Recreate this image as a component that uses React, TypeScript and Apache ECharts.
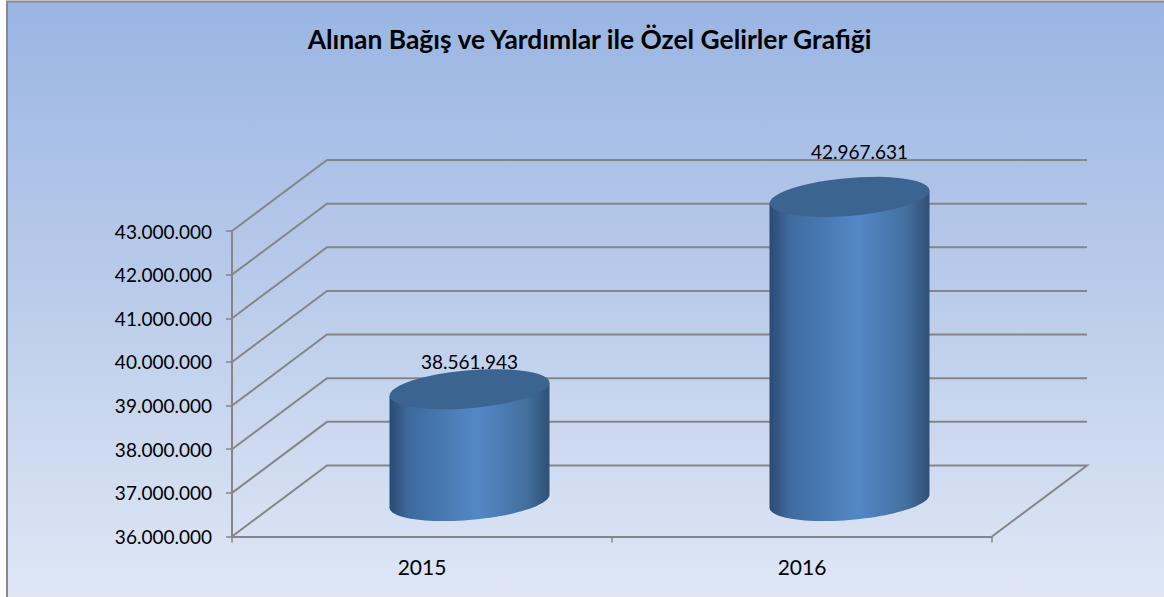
import React, { useEffect, useRef } from "react";
import * as echarts from "echarts";

const TITLE = "Alınan Bağış ve Yardımlar ile Özel Gelirler Grafiği";
const categories = ["2015", "2016"];
const values = [38561943, 42967631];
const yTicks = [36000000, 37000000, 38000000, 39000000, 40000000, 41000000, 42000000, 43000000];
const FONT = "Lato";
const W = 1164;
const H = 597;
const DEPTH_X = 95;
const DEPTH_Y = -71;
const RX = 80;
const RY = 19;
const SHEAR = 6.5;

const fmt = (v: number) => String(v).replace(/\B(?=(\d{3})+(?!\d))/g, ".");

function arc(cx: number, cy: number, from: number, to: number) {
  const pts: number[][] = [];
  const n = 48;
  for (let i = 0; i <= n; i++) {
    const t = from + ((to - from) * i) / n;
    pts.push([cx + RX * Math.cos(t), cy + RY * Math.sin(t) - SHEAR * Math.cos(t)]);
  }
  return pts;
}

export default function App() {
  const ref = useRef<HTMLDivElement>(null);
  useEffect(() => {
    document.body.style.margin = "0";
    const chart = echarts.init(ref.current!, undefined, { renderer: "svg" });
    const bodyFill = new echarts.graphic.LinearGradient(0, 0, 1, 0, [
      { offset: 0, color: "#2b4a72" },
      { offset: 0.12, color: "#3e6a9e" },
      { offset: 0.55, color: "#5388c7" },
      { offset: 0.85, color: "#44709f" },
      { offset: 1, color: "#2f5077" },
    ]);
    chart.setOption({
      animation: false,
      title: {
        text: TITLE,
        left: 584.5,
        top: 21,
        textAlign: "center",
        textStyle: { fontFamily: FONT, fontSize: 26.4, fontWeight: "bold", color: "#000" },
      },
      graphic: [
        {
          type: "rect",
          z: -10,
          shape: { x: 7, y: 1.5, width: W + 20, height: H + 20 },
          style: {
            fill: new echarts.graphic.LinearGradient(0, 0, 0, 1, [
              { offset: 0, color: "#9ab5e3" },
              { offset: 0.5, color: "#bccdeb" },
              { offset: 1, color: "#e2e9f6" },
            ]),
            stroke: "#8a8a8a",
            lineWidth: 2,
          },
        },
      ],
      grid: { left: 232, right: W - 992, top: 231, bottom: H - 536.5 },
      xAxis: {
        type: "category",
        data: categories,
        axisLine: { lineStyle: { color: "#868686", width: 2 } },
        axisTick: { show: true, length: 6, alignWithLabel: false, lineStyle: { color: "#868686", width: 1.5 } },
        axisLabel: { color: "#000", fontFamily: FONT, fontSize: 21, margin: 19 },
        splitLine: { show: false },
      },
      yAxis: {
        type: "value",
        min: yTicks[0],
        max: yTicks[yTicks.length - 1],
        interval: yTicks[1] - yTicks[0],
        axisLine: { show: true, lineStyle: { color: "#868686", width: 2 } },
        axisTick: { show: true, length: 6, lineStyle: { color: "#868686", width: 1.5 } },
        axisLabel: { color: "#000", fontFamily: FONT, fontSize: 19, margin: 20, formatter: (v: number) => fmt(v) },
        splitLine: { show: false },
      },
      series: [
        {
          type: "custom",
          z: 1,
          silent: true,
          data: yTicks.map((v) => [0, v]),
          encode: { x: 0, y: 1 },
          clip: false,
          renderItem: (params: any, api: any) => {
            const cs = params.coordSys;
            const y = api.coord([0, api.value(1)])[1];
            const pts = [
              [cs.x, y],
              [cs.x + DEPTH_X, y + DEPTH_Y],
              [cs.x + cs.width + DEPTH_X, y + DEPTH_Y],
            ];
            if (params.dataIndex === 0) pts.push([cs.x + cs.width, y]);
            return {
              type: "polyline",
              shape: { points: pts },
              style: { stroke: "#868686", lineWidth: 2, fill: "none" },
            };
          },
        },
        {
          type: "custom",
          z: 3,
          data: values.map((v, i) => [i, v]),
          encode: { x: 0, y: 1 },
          clip: false,
          renderItem: (params: any, api: any) => {
            const val = api.value(1);
            const i = api.value(0);
            const top = api.coord([i, val]);
            const base = api.coord([i, yTicks[0]]);
            const cx = top[0] + DEPTH_X / 2;
            const cyTop = top[1] + DEPTH_Y / 2;
            const cyBase = base[1] + DEPTH_Y / 2;
            const body = [
              [cx - RX, cyTop + SHEAR],
              ...arc(cx, cyBase, Math.PI, 0),
              [cx + RX, cyTop - SHEAR],
            ];
            return {
              type: "group",
              children: [
                { type: "polygon", shape: { points: body }, style: { fill: bodyFill } },
                { type: "polygon", shape: { points: arc(cx, cyTop, 0, Math.PI * 2) }, style: { fill: "#3c6491" } },
                {
                  type: "text",
                  style: {
                    text: fmt(val),
                    x: cx + (i === 1 ? 10 : 0),
                    y: cyTop - (i === 1 ? 45 : 28),
                    align: "center",
                    verticalAlign: "middle",
                    fill: "#000",
                    fontFamily: FONT,
                    fontSize: 19,
                  },
                },
              ],
            };
          },
        },
      ],
    });
    return () => chart.dispose();
  }, []);
  return <div ref={ref} style={{ width: W, height: H }} />;
}
